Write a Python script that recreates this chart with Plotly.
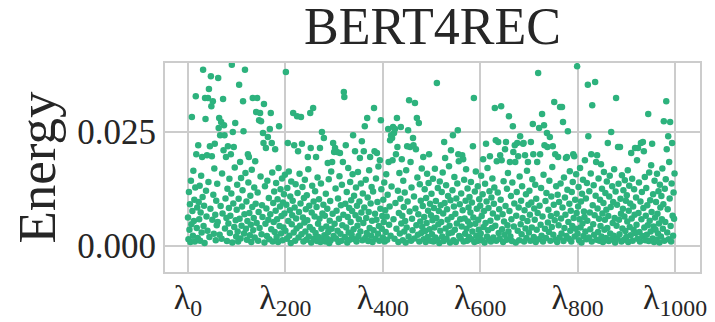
import plotly.graph_objects as go

# Energy values, in units of 1e-4, one row per 20 eigenvalue indices
energy_e4_rows = [
    [62,14,118,35,91,8,143,47,283,76,22,165,54,101,9,128,329,201,39,84],
    [17,221,96,58,132,11,73,154,29,195,107,387,43,88,6,325,279,121,64,199],
    [33,325,140,345,19,219,81,373,307,197,57,318,112,26,170,224,68,12,99,45],
    [136,52,369,259,281,24,243,87,272,15,159,71,323,210,265,243,38,104,195,61],
    [10,125,219,49,83,147,28,66,201,115,398,7,250,93,217,41,172,270,56,20],
    [79,134,31,9,103,354,59,184,16,149,44,86,122,318,252,27,69,387,160,37],
    [97,13,54,201,139,195,72,23,110,46,8,167,85,325,34,61,128,18,186,92],
    [294,50,325,117,11,74,276,39,292,152,274,25,89,63,248,226,312,7,131,48],
    [215,82,21,143,239,57,105,14,257,69,292,36,226,161,9,94,52,119,30,212],
    [77,138,19,58,102,8,171,263,43,86,124,27,65,148,12,95,40,113,71,156],
    [33,382,90,15,127,226,54,163,22,78,108,6,141,47,67,99,292,29,221,84],
    [11,135,60,38,285,116,208,18,74,158,44,93,283,25,224,129,62,9,105,51],
    [145,31,80,13,111,56,195,168,20,88,41,292,215,7,73,132,35,303,97,16],
    [64,120,28,195,85,10,150,48,19,102,59,215,8,137,37,250,71,14,90,237],
    [23,66,9,114,42,17,81,182,30,146,6,55,98,12,163,37,184,70,226,21],
    [206,48,215,126,15,77,206,33,104,8,59,153,204,26,89,11,134,45,184,68],
    [338,327,19,92,221,40,118,7,63,171,29,83,13,140,52,100,24,76,157,243],
    [36,110,14,208,67,128,9,88,44,162,21,58,97,193,31,137,73,230,12,115],
    [50,208,84,263,17,145,61,28,281,106,10,74,166,39,195,93,22,129,55,8],
    [119,34,303,208,70,15,148,57,204,96,26,174,43,11,188,81,276,124,37,65],
    [18,101,52,139,9,78,30,157,64,13,112,257,184,46,86,232,22,243,130,237],
    [188,261,58,248,15,257,94,201,37,281,217,121,8,72,160,27,103,261,49,190],
    [66,12,143,85,31,117,54,7,166,40,219,97,254,20,320,75,217,184,11,128],
    [59,34,237,221,108,16,314,82,212,45,281,150,24,69,270,9,135,53,99,28],
    [170,41,87,195,14,63,124,32,8,105,50,158,19,77,138,201,36,92,11,67],
    [114,25,56,147,9,83,40,169,18,98,61,358,13,127,47,76,6,141,33,89],
    [52,118,20,161,71,10,228,94,193,38,133,15,80,57,109,27,175,44,7,100],
    [210,63,29,122,243,12,86,151,35,70,8,104,49,137,254,201,186,21,91,58],
    [16,115,42,199,78,190,9,145,60,26,99,168,37,11,126,53,84,19,107,46],
    [73,140,14,95,31,219,62,325,8,119,48,163,22,81,10,131,57,35,102,17],
    [88,27,154,65,12,113,190,41,76,7,136,50,224,97,20,171,34,83,14,120],
    [197,55,9,106,39,148,71,18,92,128,303,44,232,11,186,62,117,228,28,80],
    [15,199,101,307,188,36,69,8,142,53,24,212,87,228,13,125,45,160,31,285],
    [76,184,20,109,58,10,139,263,206,42,93,221,184,7,66,118,226,33,197,84],
    [12,152,241,47,99,25,131,61,224,226,9,78,199,38,113,17,165,54,184,90],
    [29,121,68,11,228,95,40,146,268,201,19,82,57,134,8,103,35,184,72,380],
    [14,259,88,201,46,127,22,290,64,9,156,265,221,37,98,17,116,248,217,51],
    [79,30,143,239,11,65,108,41,173,219,24,90,316,56,201,13,131,70,8,112],
    [195,45,96,18,305,137,60,27,305,84,272,10,150,39,106,68,193,21,195,123],
    [252,52,15,92,164,33,77,9,118,43,140,201,61,197,20,101,37,157,72,395],
    [26,86,129,12,58,171,40,97,7,114,49,145,21,75,63,188,31,104,14,138],
    [55,354,241,18,120,73,36,159,201,9,309,89,47,133,24,67,360,110,184,13],
    [199,82,30,148,59,11,101,43,179,20,125,71,8,94,162,35,57,116,17,79],
    [141,39,226,65,10,108,154,27,85,250,14,131,50,96,22,168,61,7,119,325],
    [44,90,16,217,136,57,25,217,103,70,9,155,38,81,122,13,64,144,32,99],
    [19,111,53,166,8,77,132,41,93,23,204,60,147,11,86,35,124,68,215,28],
    [106,46,188,15,215,72,139,30,9,97,226,58,118,21,228,83,208,40,151,12],
    [66,127,24,89,45,290,10,161,55,100,31,177,74,224,16,113,42,8,143,62],
    [35,96,13,158,70,27,120,49,7,134,84,20,109,58,170,37,91,274,11,125],
    [52,146,318,212,29,80,241,14,184,104,272,43,9,137,226,66,22,117,59,159],
]

energy = [v / 10000 for row in energy_e4_rows for v in row]
lambda_index = list(range(len(energy)))

x_tick_vals = [0, 200, 400, 600, 800, 1000]
x_tick_text = ["λ<sub>0</sub>", "λ<sub>200</sub>", "λ<sub>400</sub>",
               "λ<sub>600</sub>", "λ<sub>800</sub>", "λ<sub>1000</sub>"]
y_tick_vals = [0.0, 0.025]

title_text = "BERT4REC"
y_title = "Energy"

SERIF = "Liberation Serif"
GRID = "#cccccc"
TXT = "#262626"

fig = go.Figure()
fig.add_trace(go.Scatter(
    x=lambda_index, y=energy, mode="markers",
    marker=dict(color="#2db27d", size=6.5, line=dict(width=0)),
    showlegend=False, cliponaxis=True,
))

# the page body adds an 8px offset, margins compensate for it
fig.update_layout(
    width=715, height=322,
    margin=dict(l=157, r=23, t=55, b=58, autoexpand=False),
    paper_bgcolor="white", plot_bgcolor="white",
    font=dict(family=SERIF, color=TXT),
    title=dict(text=title_text, font=dict(family=SERIF, size=52, color=TXT),
               x=0.5, xref="paper", xanchor="center",
               y=1.0, yref="container", yanchor="top"),
)

fig.update_xaxes(
    range=[-47.2, 1051.3], tickvals=x_tick_vals, ticktext=x_tick_text,
    automargin=False, ticklabelstandoff=-6,
    showgrid=True, gridcolor=GRID, gridwidth=1.5,
    zeroline=False, showline=True, linecolor=GRID, linewidth=2, mirror=True,
    ticks="", tickfont=dict(family=SERIF, size=34, color=TXT),
)
fig.update_yaxes(
    range=[-0.0058, 0.0402], tickvals=y_tick_vals, tickformat=".3f",
    automargin=False,
    showgrid=True, gridcolor=GRID, gridwidth=1.5,
    zeroline=False, showline=True, linecolor=GRID, linewidth=2, mirror=True,
    ticks="", tickfont=dict(family=SERIF, size=35, color=TXT),
    title=dict(text=y_title, font=dict(family=SERIF, size=53, color=TXT), standoff=14),
)

fig.write_html("out.html")
